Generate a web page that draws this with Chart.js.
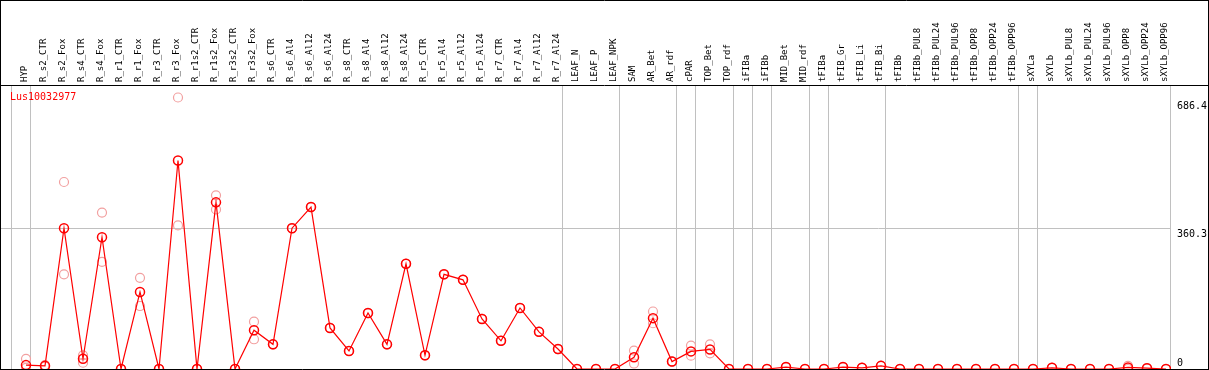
<!DOCTYPE html>
<html>
<head>
<meta charset="utf-8">
<script src="https://cdn.jsdelivr.net/npm/chart.js@4.4.1/dist/chart.umd.min.js"></script>
<style>
  body { margin: 0; background: #fff; }
  #wrap { width: 1209px; height: 370px; }
</style>
</head>
<body>
<div id="wrap"><canvas id="chart0"></canvas></div>
<script>
var geneName = "Lus10032977";

var samples = ["HYP", "R_s2_CTR", "R_s2_Fox", "R_s4_CTR", "R_s4_Fox", "R_r1_CTR", "R_r1_Fox",
  "R_r3_CTR", "R_r3_Fox", "R_r1s2_CTR", "R_r1s2_Fox", "R_r3s2_CTR", "R_r3s2_Fox",
  "R_s6_CTR", "R_s6_Al4", "R_s6_Al12", "R_s6_Al24", "R_s8_CTR", "R_s8_Al4", "R_s8_Al12", "R_s8_Al24",
  "R_r5_CTR", "R_r5_Al4", "R_r5_Al12", "R_r5_Al24", "R_r7_CTR", "R_r7_Al4", "R_r7_Al12", "R_r7_Al24",
  "LEAF_N", "LEAF_P", "LEAF_NPK", "SAM", "AR_Bet", "AR_rdf", "cPAR", "TOP_Bet", "TOP_rdf",
  "iFIBa", "iFIBb", "MID_Bet", "MID_rdf", "tFIBa", "tFIB_Gr", "tFIB_Li", "tFIB_Bi",
  "tFIBb", "tFIBb_PUL8", "tFIBb_PUL24", "tFIBb_PUL96", "tFIBb_OPP8", "tFIBb_OPP24", "tFIBb_OPP96",
  "sXYLa", "sXYLb", "sXYLb_PUL8", "sXYLb_PUL24", "sXYLb_PUL96", "sXYLb_OPP8", "sXYLb_OPP24", "sXYLb_OPP96"];

// mean expression
var meanValues = [10, 8, 360, 26, 337, 0, 197, 0, 533, 0, 426, 0, 99,
  63, 360, 414, 105, 46, 143, 63, 269, 35, 242, 228, 128, 72, 156, 95, 51,
  0, 0, 0, 30, 130, 19, 45, 50, 0,
  0, 0, 5, 0, 0, 5, 3, 8,
  0, 0, 0, 0, 0, 0, 0,
  0, 3, 0, 0, 0, 4, 2, 0];

// replicates (upper / lower)
var repHigh = [26, 10, 478, 35, 400, 0, 233, 0, 694, 0, 444, 0, 121,
  63, 360, 414, 105, 46, 143, 63, 269, 35, 242, 228, 128, 72, 156, 95, 51,
  0, 0, 0, 47, 147, 19, 60, 63, 0,
  0, 0, 5, 0, 0, 5, 3, 8,
  0, 0, 0, 0, 0, 0, 0,
  0, 3, 0, 0, 0, 8, 2, 0];
var repLow = [3, 6, 242, 16, 274, 0, 161, 0, 367, 0, 408, 0, 76,
  63, 360, 414, 105, 46, 143, 63, 269, 35, 242, 228, 128, 72, 156, 95, 51,
  0, 0, 0, 14, 117, 19, 34, 40, 0,
  0, 0, 5, 0, 0, 5, 3, 8,
  0, 0, 0, 0, 0, 0, 0,
  0, 3, 0, 0, 0, 0, 2, 0];

// last sample index of each group (separator lines)
var groupEnds = [-1, 0, 28, 31, 34, 35, 37, 38, 39, 41, 42, 45, 52, 53, 60];

var yTicks = [0, 360.3, 686.4];

function toPoints(arr) {
    return arr.map(function (v, i) { return { x: i, y: v }; });
}

function noPadding(scale) {
    scale.paddingLeft = 0;
    scale.paddingRight = 0;
    scale.paddingTop = 0;
    scale.paddingBottom = 0;
}

var xMin = -25 / 19;
var xMax = 60 + 5 / 19;
var yMax = 726;

var framePlugin = {
    id: 'frame',
    afterDraw: function (chart) {
        var ctx = chart.ctx;
        var a = chart.chartArea;
        var w = chart.width;
        ctx.save();
        ctx.strokeStyle = '#000';
        ctx.lineWidth = 1;
        ctx.beginPath();
        ctx.moveTo(0, 0.5); ctx.lineTo(w, 0.5);
        ctx.moveTo(0.5, 0); ctx.lineTo(0.5, a.bottom + 1);
        ctx.moveTo(w - 0.5, 0); ctx.lineTo(w - 0.5, a.bottom + 1);
        ctx.moveTo(0, a.top + 0.5); ctx.lineTo(w, a.top + 0.5);
        ctx.moveTo(0, a.bottom + 0.5); ctx.lineTo(w, a.bottom + 0.5);
        ctx.stroke();
        ctx.fillStyle = '#ff0000';
        ctx.font = '10px "DejaVu Sans Mono"';
        ctx.textBaseline = 'middle';
        ctx.fillText(geneName, 10, a.top + 12);
        ctx.restore();
    }
};

Chart.defaults.font.family = '"DejaVu Sans Mono", monospace';

const ctx = document.getElementById('chart0').getContext('2d');
var chartId = new Chart(ctx, {
    type: 'line',
    data: {
        datasets: [{
            data: toPoints(meanValues),
            borderColor: '#ff0000',
            borderWidth: 1.2,
            pointRadius: 4.5,
            pointBorderWidth: 1.5,
            pointBorderColor: '#ff0000',
            pointBackgroundColor: 'rgba(255,255,255,0)',
            tension: 0,
            order: 0
        }, {
            data: toPoints(repHigh),
            showLine: false,
            pointRadius: 4.5,
            pointBorderWidth: 1.2,
            pointBorderColor: '#f2a0a0',
            pointBackgroundColor: 'rgba(255,255,255,0)',
            order: 1
        }, {
            data: toPoints(repLow),
            showLine: false,
            pointRadius: 4.5,
            pointBorderWidth: 1.2,
            pointBorderColor: '#f2a0a0',
            pointBackgroundColor: 'rgba(255,255,255,0)',
            order: 2
        }]
    },
    options: {
        responsive: true,
        maintainAspectRatio: false,
        animation: false,
        layout: { autoPadding: false, padding: { left: 1, top: 0, right: 0, bottom: 1 } },
        scales: {
            x: {
                type: 'linear',
                position: 'top',
                min: xMin,
                max: xMax,
                grid: { display: false, drawTicks: false },
                border: { display: false },
                afterBuildTicks: function (scale) {
                    scale.ticks = samples.map(function (s, i) { return { value: i }; });
                },
                afterFit: function (scale) { scale.height = 85; noPadding(scale); },
                ticks: {
                    autoSkip: false,
                    minRotation: 90,
                    maxRotation: 90,
                    padding: 3,
                    labelOffset: 9,
                    color: '#000',
                    font: { size: 9 },
                    callback: function (v, i) { return samples[i]; }
                }
            },
            xs: {
                type: 'linear',
                position: 'bottom',
                min: xMin,
                max: xMax,
                grid: { color: '#c0c0c0', lineWidth: 1, drawTicks: false },
                border: { display: false },
                ticks: { display: false },
                afterBuildTicks: function (scale) {
                    scale.ticks = groupEnds.map(function (k) { return { value: k + 0.23 }; });
                },
                afterFit: function (scale) { scale.height = 0; noPadding(scale); }
            },
            y: {
                position: 'right',
                min: 0,
                max: yMax,
                border: { display: false },
                grid: {
                    drawTicks: false,
                    color: function (c) { return c.tick && c.tick.value === 360.3 ? '#c0c0c0' : 'rgba(0,0,0,0)'; }
                },
                afterBuildTicks: function (scale) {
                    scale.ticks = yTicks.map(function (v) { return { value: v }; });
                },
                afterFit: function (scale) { scale.width = 38; noPadding(scale); },
                ticks: {
                    padding: 6,
                    color: '#000',
                    font: { size: 10 },
                    // zero label sits above its line, the others below
                    callback: function (v) { return v === 0 ? ['0', ''] : ['', String(v)]; }
                }
            }
        },
        plugins: {
            legend: { display: false },
            tooltip: { enabled: false },
            title: { display: false }
        }
    },
    plugins: [framePlugin]
});
</script>
</body>
</html>
